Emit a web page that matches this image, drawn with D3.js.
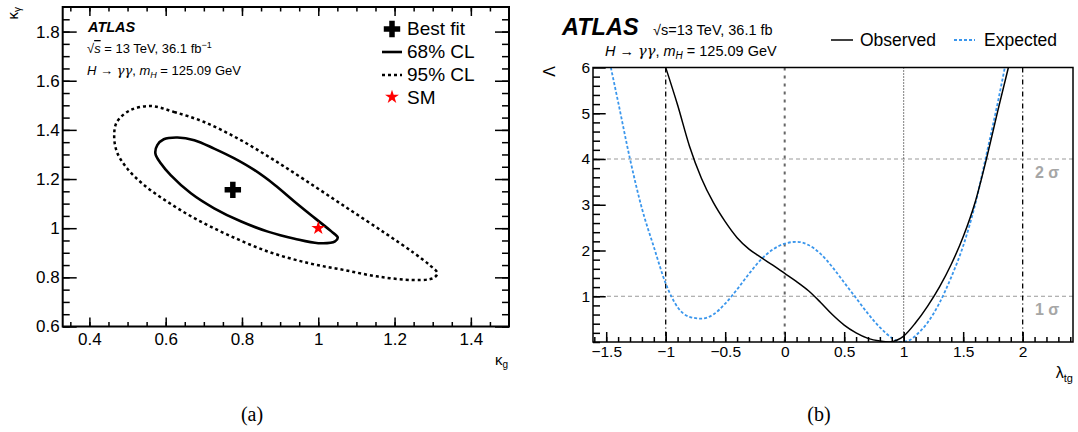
<!DOCTYPE html>
<html>
<head>
<meta charset="utf-8">
<script src="https://cdn.jsdelivr.net/npm/d3@7"></script>
<style>
  body { margin: 0; background: #fff; }
  svg { font-family: "Liberation Sans", Arial, sans-serif; }
</style>
</head>
<body>
<svg id="fig" width="1078" height="432"></svg>
<script>
// ---- panel (a): kappa_g vs kappa_gamma contours ----
const kg68   = [0.573, 0.578, 0.595, 0.631, 0.675, 0.727, 0.780, 0.833, 0.886, 0.938, 0.991, 1.035, 1.051, 1.044, 1.000, 0.938, 0.868, 0.798, 0.727, 0.666, 0.613, 0.587];
const kgam68 = [1.304, 1.338, 1.362, 1.369, 1.358, 1.324, 1.284, 1.236, 1.176, 1.108, 1.041, 0.986, 0.962, 0.946, 0.939, 0.957, 0.986, 1.027, 1.081, 1.142, 1.216, 1.264];
const kg95   = [0.560, 0.622, 0.701, 0.789, 0.877, 0.965, 1.070, 1.175, 1.250, 1.292, 1.312, 1.305, 1.290, 1.247, 1.157, 1.067, 0.974, 0.868, 0.763, 0.675, 0.604, 0.543, 0.499, 0.472, 0.465, 0.472, 0.507];
const kgam95 = [1.497, 1.473, 1.432, 1.365, 1.284, 1.196, 1.088, 0.980, 0.900, 0.850, 0.818, 0.800, 0.792, 0.789, 0.803, 0.830, 0.858, 0.905, 0.973, 1.041, 1.108, 1.176, 1.243, 1.311, 1.378, 1.432, 1.480];
const bestFit = [0.776, 1.156];
const smPoint = [1.0, 1.0];
const xTicksA = [0.4, 0.6, 0.8, 1, 1.2, 1.4];
const yTicksA = [0.6, 0.8, 1, 1.2, 1.4, 1.6, 1.8];

// ---- panel (b): likelihood scan in lambda_tg ----
const lamObs = [-1.0, -0.9, -0.8, -0.7, -0.6, -0.5, -0.4, -0.3, -0.2, -0.1, 0, 0.1, 0.2, 0.3, 0.4, 0.5, 0.6, 0.7, 0.8, 0.88, 0.95, 1.0, 1.1, 1.2, 1.3, 1.4, 1.5, 1.6, 1.7, 1.8, 1.88];
const nllObs = [6.0, 5.18, 4.28, 3.58, 3.05, 2.63, 2.28, 2.03, 1.85, 1.68, 1.5, 1.32, 1.12, 0.87, 0.6, 0.37, 0.2, 0.08, 0.02, 0.0, 0.05, 0.13, 0.42, 0.78, 1.2, 1.7, 2.3, 3.05, 4.05, 5.15, 6.0];
const lamExp = [-1.461, -1.4, -1.3, -1.2, -1.1, -1.0, -0.9, -0.8, -0.7, -0.6, -0.5, -0.4, -0.3, -0.2, -0.1, 0, 0.1, 0.2, 0.3, 0.4, 0.5, 0.6, 0.7, 0.8, 0.9, 0.97, 1.05, 1.1, 1.2, 1.3, 1.4, 1.5, 1.6, 1.7, 1.8, 1.85];
const nllExp = [6.0, 5.25, 4.0, 2.92, 2.08, 1.28, 0.76, 0.55, 0.51, 0.6, 0.84, 1.15, 1.49, 1.8, 2.02, 2.15, 2.19, 2.12, 1.93, 1.64, 1.3, 0.96, 0.62, 0.32, 0.09, 0.0, 0.04, 0.14, 0.42, 0.85, 1.42, 2.1, 3.0, 4.15, 5.35, 6.0];
const sigmaLevels = [1, 4];
const sigmaLabels = ["1 σ", "2 σ"];
const xTicksB = [-1.5, -1, -0.5, 0, 0.5, 1, 1.5, 2];
const yTicksB = [1, 2, 3, 4, 5, 6];

const svg = d3.select("#fig");
const fmt = d3.format("~g");

function cleanAxis(g) {
    g.select(".domain").remove();
    g.selectAll(".tick line").attr("stroke", "#000").attr("stroke-width", 1.5);
}

// ================= panel (a) =================
const xA = d3.scaleLinear().domain([0.33, 1.5]).range([62.7, 509]);
const yA = d3.scaleLinear().domain([0.6, 1.9]).range([326.5, 7]);
const pa = svg.append("g");

// ticks (inward, mirrored on all sides)
const minorXA = d3.range(0.35, 1.5, 0.05);
const minorYA = d3.range(0.6, 1.9, 0.05);
pa.append("g").attr("transform", "translate(0,326.5)")
    .call(d3.axisBottom(xA).tickValues(xTicksA).tickSize(-9).tickPadding(6).tickFormat(fmt))
    .call(cleanAxis)
    .selectAll("text").attr("font-size", 17).attr("font-family", "Liberation Sans, Arial, sans-serif").attr("fill", "#000");
pa.append("g").attr("transform", "translate(0,326.5)")
    .call(d3.axisBottom(xA).tickValues(minorXA).tickSize(-4.5).tickFormat(""))
    .call(cleanAxis);
pa.append("g").attr("transform", "translate(0,7)")
    .call(d3.axisTop(xA).tickValues(xTicksA).tickSize(-9).tickFormat(""))
    .call(cleanAxis);
pa.append("g").attr("transform", "translate(0,7)")
    .call(d3.axisTop(xA).tickValues(minorXA).tickSize(-4.5).tickFormat(""))
    .call(cleanAxis);
pa.append("g").attr("transform", "translate(62.7,0)")
    .call(d3.axisLeft(yA).tickValues(yTicksA).tickSize(-14).tickPadding(3).tickFormat(fmt))
    .call(cleanAxis)
    .selectAll("text").attr("font-size", 17).attr("font-family", "Liberation Sans, Arial, sans-serif").attr("fill", "#000");
pa.append("g").attr("transform", "translate(62.7,0)")
    .call(d3.axisLeft(yA).tickValues(minorYA).tickSize(-7).tickFormat(""))
    .call(cleanAxis);
pa.append("g").attr("transform", "translate(509,0)")
    .call(d3.axisRight(yA).tickValues(yTicksA).tickSize(-14).tickFormat(""))
    .call(cleanAxis);
pa.append("g").attr("transform", "translate(509,0)")
    .call(d3.axisRight(yA).tickValues(minorYA).tickSize(-7).tickFormat(""))
    .call(cleanAxis);

pa.append("rect").attr("x", 62.7).attr("y", 7).attr("width", 509 - 62.7).attr("height", 326.5 - 7)
    .attr("fill", "none").attr("stroke", "#000").attr("stroke-width", 2);

// contours
const contourLine = d3.line().x(d => xA(d[0])).y(d => yA(d[1])).curve(d3.curveCatmullRomClosed.alpha(0.5));
pa.append("path").attr("d", contourLine(d3.zip(kg95, kgam95)))
    .attr("fill", "none").attr("stroke", "#000").attr("stroke-width", 2.5).attr("stroke-dasharray", "3,3");
pa.append("path").attr("d", contourLine(d3.zip(kg68, kgam68)))
    .attr("fill", "none").attr("stroke", "#000").attr("stroke-width", 2.6);

pa.append("path").attr("d", d3.symbol(d3.symbolCross, 150)())
    .attr("transform", `translate(${xA(bestFit[0])},${yA(bestFit[1])})`).attr("fill", "#000");
pa.append("path").attr("d", d3.symbol(d3.symbolStar, 60)())
    .attr("transform", `translate(${xA(smPoint[0])},${yA(smPoint[1])})`).attr("fill", "#f00");

// labels
pa.append("text").attr("x", 88).attr("y", 32).attr("font-size", 14.5).attr("font-weight", "bold")
    .attr("font-style", "italic").text("ATLAS");
const ta1 = pa.append("text").attr("x", 87).attr("y", 53).attr("font-size", 13);
ta1.append("tspan").text("√");
ta1.append("tspan").attr("font-style", "italic").attr("text-decoration", "overline").text("s");
ta1.append("tspan").text(" = 13 TeV, 36.1 fb");
ta1.append("tspan").attr("dy", -5).attr("font-size", 9).text("−1");
const ta2 = pa.append("text").attr("x", 87).attr("y", 75).attr("font-size", 13);
ta2.append("tspan").attr("font-style", "italic").text("H");
ta2.append("tspan").text(" → ");
ta2.append("tspan").attr("font-style", "italic").attr("font-family", "DejaVu Serif, serif").text("γγ");
ta2.append("tspan").text(", ");
ta2.append("tspan").attr("font-style", "italic").text("m");
ta2.append("tspan").attr("font-style", "italic").attr("font-size", 9).attr("dy", 3).text("H");
ta2.append("tspan").attr("dy", -3).text(" = 125.09 GeV");

// legend
const legA = pa.append("g").attr("font-size", 19);
legA.append("path").attr("d", d3.symbol(d3.symbolCross, 150)()).attr("transform", "translate(392,29)");
legA.append("text").attr("x", 407).attr("y", 35).text("Best fit");
legA.append("line").attr("x1", 382).attr("x2", 402).attr("y1", 52).attr("y2", 52)
    .attr("stroke", "#000").attr("stroke-width", 2.6);
legA.append("text").attr("x", 407).attr("y", 58).text("68% CL");
legA.append("line").attr("x1", 382).attr("x2", 402).attr("y1", 75).attr("y2", 75)
    .attr("stroke", "#000").attr("stroke-width", 2.5).attr("stroke-dasharray", "3,3");
legA.append("text").attr("x", 407).attr("y", 81).text("95% CL");
legA.append("path").attr("d", d3.symbol(d3.symbolStar, 60)()).attr("transform", "translate(392,97)").attr("fill", "#f00");
legA.append("text").attr("x", 407).attr("y", 104).text("SM");

// axis titles
const ylabA = pa.append("text").attr("transform", "translate(18,7) rotate(-90)")
    .attr("text-anchor", "end").attr("font-size", 15);
ylabA.append("tspan").text("κ");
ylabA.append("tspan").attr("font-size", 10).attr("dy", 3).text("γ");
const xlabA = pa.append("text").attr("x", 508).attr("y", 365).attr("text-anchor", "end").attr("font-size", 15);
xlabA.append("tspan").text("κ");
xlabA.append("tspan").attr("font-size", 10).attr("dy", 3).text("g");

// ================= panel (b) =================
const xB = d3.scaleLinear().domain([-1.611, 2.423]).range([593, 1073]);
const yB = d3.scaleLinear().domain([0, 6]).range([342, 67.5]);
const pb = svg.append("g");

pb.append("defs").append("clipPath").attr("id", "clipB")
    .append("rect").attr("x", 593).attr("y", 67.5).attr("width", 1073 - 593).attr("height", 342 - 67.5);

// reference lines
pb.selectAll(".hsig").data(sigmaLevels).join("line")
    .attr("x1", 593).attr("x2", 1073).attr("y1", d => yB(d)).attr("y2", d => yB(d))
    .attr("stroke", "#999").attr("stroke-width", 1).attr("stroke-dasharray", "4,3");
const vlines = [
    {x: -1, color: "#000", dash: "5,3,1,3", w: 1.3},
    {x: 0, color: "#666", dash: "3,5", w: 2},
    {x: 1, color: "#000", dash: "1,2", w: 1},
    {x: 2, color: "#000", dash: "5,3,1,3", w: 1.3}
];
pb.selectAll(".vl").data(vlines).join("line")
    .attr("x1", d => xB(d.x)).attr("x2", d => xB(d.x)).attr("y1", 67.5).attr("y2", 342)
    .attr("stroke", d => d.color).attr("stroke-width", d => d.w).attr("stroke-dasharray", d => d.dash);
pb.selectAll(".siglab").data(sigmaLevels).join("text")
    .attr("x", 1035).attr("y", d => yB(d) + 19)
    .attr("font-size", 16).attr("font-weight", "bold").attr("fill", "#a6a6a6")
    .text((d, i) => sigmaLabels[i]);

// curves
const scan = d3.line().x(d => xB(d[0])).y(d => yB(d[1])).curve(d3.curveMonotoneX);
const curves = pb.append("g").attr("clip-path", "url(#clipB)");
curves.append("path").attr("d", scan(d3.zip(lamExp, nllExp)))
    .attr("fill", "none").attr("stroke", "#3a96ec").attr("stroke-width", 1.8).attr("stroke-dasharray", "3,2");
curves.append("path").attr("d", scan(d3.zip(lamObs, nllObs)))
    .attr("fill", "none").attr("stroke", "#000").attr("stroke-width", 1.5);

// axes (left and bottom only)
pb.append("g").attr("transform", "translate(0,342)")
    .call(d3.axisBottom(xB).tickValues(xTicksB).tickSize(-10).tickPadding(4).tickFormat(fmt))
    .call(cleanAxis)
    .selectAll("text").attr("font-size", 15.5).attr("font-family", "Liberation Sans, Arial, sans-serif").attr("fill", "#000");
pb.append("g").attr("transform", "translate(0,342)")
    .call(d3.axisBottom(xB).tickValues(d3.range(-1.6, 2.45, 0.1)).tickSize(-5).tickFormat(""))
    .call(cleanAxis);
pb.append("g").attr("transform", "translate(593,0)")
    .call(d3.axisLeft(yB).tickValues(yTicksB).tickSize(-12.7).tickPadding(3).tickFormat(fmt))
    .call(cleanAxis)
    .selectAll("text").attr("font-size", 15.5).attr("font-family", "Liberation Sans, Arial, sans-serif").attr("fill", "#000");
pb.append("g").attr("transform", "translate(593,0)")
    .call(d3.axisLeft(yB).tickValues(d3.range(0, 6, 0.2)).tickSize(-7).tickFormat(""))
    .call(cleanAxis);

pb.append("rect").attr("x", 593).attr("y", 67.5).attr("width", 1073 - 593).attr("height", 342 - 67.5)
    .attr("fill", "none").attr("stroke", "#000").attr("stroke-width", 1.5);

// header texts
pb.append("text").attr("x", 562).attr("y", 35).attr("font-size", 23.5).attr("font-weight", "bold")
    .attr("font-style", "italic").text("ATLAS");
const tb1 = pb.append("text").attr("x", 653).attr("y", 35).attr("font-size", 14.5);
tb1.append("tspan").text("√s=13 TeV, 36.1 fb");
const tb2 = pb.append("text").attr("x", 605).attr("y", 56).attr("font-size", 14.5);
tb2.append("tspan").attr("font-style", "italic").text("H");
tb2.append("tspan").text(" → ");
tb2.append("tspan").attr("font-style", "italic").attr("font-family", "DejaVu Serif, serif").text("γγ");
tb2.append("tspan").text(", ");
tb2.append("tspan").attr("font-style", "italic").text("m");
tb2.append("tspan").attr("font-style", "italic").attr("font-size", 10).attr("dy", 3).text("H");
tb2.append("tspan").attr("dy", -3).text(" = 125.09 GeV");

// legend
const legB = pb.append("g").attr("font-size", 17.5);
legB.append("line").attr("x1", 831).attr("x2", 853).attr("y1", 40).attr("y2", 40)
    .attr("stroke", "#000").attr("stroke-width", 1.5);
legB.append("text").attr("x", 860).attr("y", 46).text("Observed");
legB.append("line").attr("x1", 954).attr("x2", 975).attr("y1", 40).attr("y2", 40)
    .attr("stroke", "#3a96ec").attr("stroke-width", 1.8).attr("stroke-dasharray", "3,2");
legB.append("text").attr("x", 984).attr("y", 46).text("Expected");

// axis titles
pb.append("text").attr("transform", "translate(555,66) rotate(-90)")
    .attr("text-anchor", "end").attr("font-size", 16).text("Λ");
const xlabB = pb.append("text").attr("x", 1073).attr("y", 378).attr("text-anchor", "end").attr("font-size", 16);
xlabB.append("tspan").text("λ");
xlabB.append("tspan").attr("font-size", 11).attr("dy", 4).text("tg");

// ================= captions =================
svg.selectAll(".cap").data([["(a)", 252], ["(b)", 819]]).join("text")
    .attr("x", d => d[1]).attr("y", 421).attr("text-anchor", "middle")
    .attr("font-family", "Liberation Serif, Times New Roman, serif").attr("font-size", 20)
    .text(d => d[0]);
</script>
</body>
</html>
